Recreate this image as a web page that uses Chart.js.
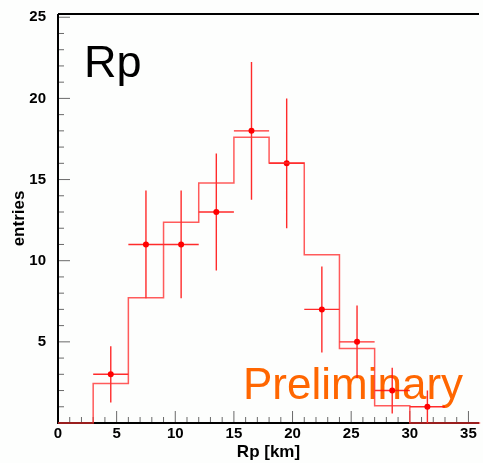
<!DOCTYPE html>
<html>
<head>
<meta charset="utf-8">
<script src="https://cdn.jsdelivr.net/npm/chart.js@4/dist/chart.umd.min.js"></script>
<style>
  html, body { margin: 0; padding: 0; background: #fdfefd; }
  #c { display: block; }
</style>
</head>
<body>
<canvas id="c" width="483" height="463"></canvas>
<script>
// Simulated distribution: left edges of the 3 km bins and the bin contents
const binEdges = [0, 3, 6, 9, 12, 15, 18, 21, 24, 27, 30, 36];
const simContents = [0, 2.44, 7.72, 12.37, 14.79, 17.6, 16.02, 10.37, 4.59, 1.06, 0, 0];

// Measured entries at the bin centres, with their uncertainties
const binCentres = [4.5, 7.5, 10.5, 13.5, 16.5, 19.5, 22.5, 25.5, 28.5, 31.5];
const entries = [3, 11, 11, 13, 18, 16, 7, 5, 2, 1];
const entryErrors = [1.73, 3.32, 3.32, 3.61, 4.24, 4.0, 2.65, 2.24, 1.41, 1.0];
const binHalfWidth = 1.5;

// Axis ranges and ticks
const xRange = [0, 35.9];
const yRange = [0, 25.2];
const majorStep = 5;
const minorStep = 1;

const LABEL_FONT = "'Liberation Sans', Arial, Helvetica, sans-serif";

const histPoints = binEdges.map((x, i) => ({ x: x, y: simContents[i] }));
const dataPoints = binCentres.map((x, i) => ({ x: x, y: entries[i] }));

// Frame, inward ticks and the two big labels
const framePlugin = {
  id: 'frame',
  beforeDraw(chart) {
    const ctx = chart.ctx;
    ctx.save();
    ctx.fillStyle = '#fdfefd';
    ctx.fillRect(0, 0, chart.width, chart.height);
    ctx.restore();
  },
  beforeDatasetsDraw(chart) {
    const { ctx, chartArea: a, scales: { x, y } } = chart;
    ctx.save();
    // ticks
    ctx.strokeStyle = '#6a6a6a';
    ctx.lineWidth = 1;
    ctx.beginPath();
    for (let v = yRange[0]; v <= yRange[1] + 1e-9; v += minorStep) {
      const py = y.getPixelForValue(v);
      const len = (v % majorStep === 0) ? 12 : 6;
      ctx.moveTo(a.left, py);
      ctx.lineTo(a.left + len, py);
    }
    for (let v = xRange[0]; v <= 35 + 1e-9; v += minorStep) {
      const px = x.getPixelForValue(v);
      const len = (v % majorStep === 0) ? 12 : 6;
      ctx.moveTo(px, a.bottom);
      ctx.lineTo(px, a.bottom - len);
    }
    ctx.stroke();
    // axis lines
    ctx.strokeStyle = '#000';
    ctx.lineWidth = 2;
    ctx.beginPath();
    ctx.moveTo(a.left, a.top);
    ctx.lineTo(a.right, a.top);
    ctx.moveTo(a.left, a.top);
    ctx.lineTo(a.left, a.bottom);
    ctx.lineTo(a.right, a.bottom);
    ctx.stroke();
    // labels
    ctx.fillStyle = '#000';
    ctx.font = "45px " + LABEL_FONT;
    ctx.textBaseline = 'alphabetic';
    ctx.textAlign = 'left';
    ctx.fillText('Rp', 84, 77);
    ctx.font = "44px " + LABEL_FONT;
    ctx.fillStyle = '#ff6600';
    ctx.fillText('Preliminary', 243, 399);
    ctx.restore();
  },
  beforeDatasetDraw(chart, args) {
    if (args.index !== 1) return;
    const { ctx, scales: { x, y } } = chart;
    ctx.save();
    ctx.strokeStyle = 'rgba(255,20,20,0.9)';
    ctx.lineWidth = 1.4;
    ctx.beginPath();
    binCentres.forEach((c, i) => {
      const px = x.getPixelForValue(c);
      const py = y.getPixelForValue(entries[i]);
      ctx.moveTo(x.getPixelForValue(c - binHalfWidth), py);
      ctx.lineTo(x.getPixelForValue(c + binHalfWidth), py);
      ctx.moveTo(px, y.getPixelForValue(Math.max(0, entries[i] - entryErrors[i])));
      ctx.lineTo(px, y.getPixelForValue(entries[i] + entryErrors[i]));
    });
    ctx.stroke();
    ctx.restore();
  }
};

new Chart(document.getElementById('c'), {
  type: 'scatter',
  data: {
    datasets: [
      {
        type: 'line',
        data: histPoints,
        stepped: 'before',
        borderColor: 'rgba(255,50,50,0.8)',
        borderWidth: 1.5,
        pointRadius: 0,
        fill: false,
        clip: false
      },
      {
        data: dataPoints,
        backgroundColor: '#ff0000',
        borderColor: '#ff0000',
        pointRadius: 3,
        borderWidth: 0,
        showLine: false
      }
    ]
  },
  options: {
    responsive: false,
    animation: false,
    layout: { padding: { top: 14, right: 0, left: 0, bottom: 0 } },
    plugins: { legend: { display: false }, tooltip: { enabled: false } },
    scales: {
      x: {
        type: 'linear',
        min: xRange[0],
        max: xRange[1],
        grid: { display: false },
        border: { display: false },
        ticks: {
          stepSize: majorStep,
          includeBounds: false,
          padding: -6,
          color: '#000',
          font: { family: LABEL_FONT, size: 15, weight: 'bold' },
          maxRotation: 0
        },
        title: {
          display: true,
          text: 'Rp [km]',
          color: '#000',
          font: { family: LABEL_FONT, size: 17, weight: 'bold' },
          padding: { top: 0, bottom: 0 }
        },
        afterFit(scale) { scale.height = 40; }
      },
      y: {
        type: 'linear',
        min: yRange[0],
        max: yRange[1],
        grid: { display: false },
        border: { display: false },
        ticks: {
          stepSize: majorStep,
          includeBounds: false,
          padding: 4,
          color: '#000',
          font: { family: LABEL_FONT, size: 15, weight: 'bold' },
          callback: v => (v === 0 ? '' : v)
        },
        title: {
          display: true,
          text: 'entries',
          color: '#000',
          font: { family: LABEL_FONT, size: 17, weight: 'bold' },
          padding: { top: 9, bottom: 0 }
        },
        afterFit(scale) { scale.width = 58; }
      }
    }
  },
  plugins: [framePlugin]
});
</script>
</body>
</html>
